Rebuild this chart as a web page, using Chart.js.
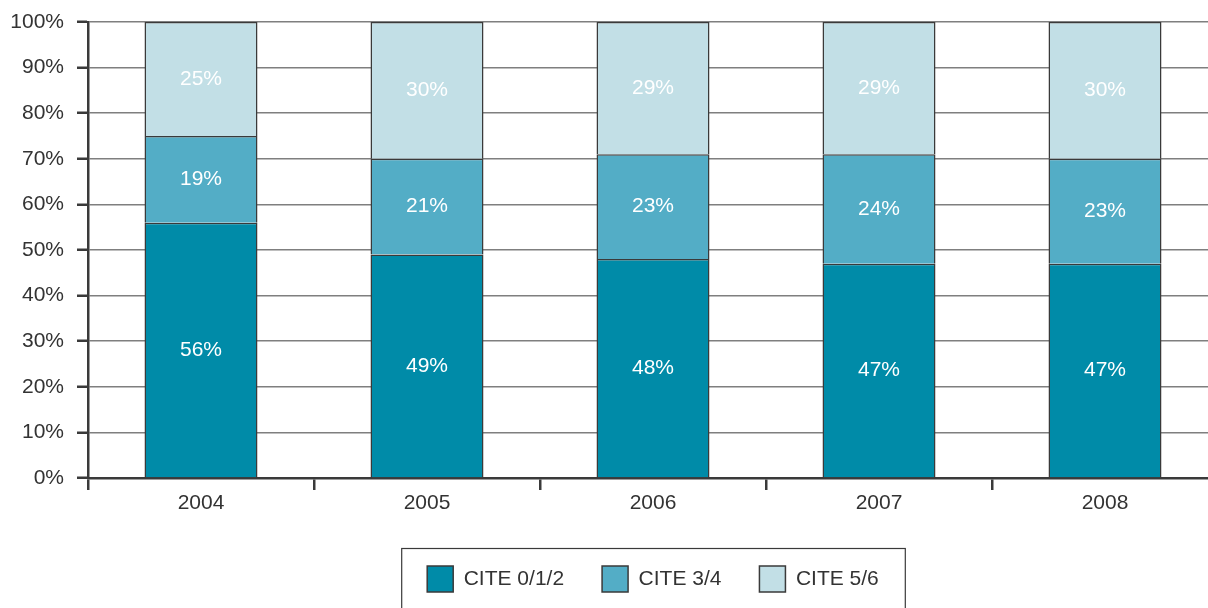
<!DOCTYPE html>
<html>
<head>
<meta charset="utf-8">
<script src="https://cdn.jsdelivr.net/npm/chart.js@4/dist/chart.umd.min.js"></script>
<style>
html,body{margin:0;padding:0;overflow:hidden;background:#fff;width:1208px;height:608px;}
#wrap{width:1308px;height:608px;}
</style>
</head>
<body>
<div id="wrap"><canvas id="c" width="1308" height="608"></canvas></div>
<script>
const categories = ['2004', '2005', '2006', '2007', '2008'];
const cite012 = [56, 49, 48, 47, 47];
const cite34 = [19, 21, 23, 24, 23];
const cite56 = [25, 30, 29, 29, 30];
const seriesNames = ['CITE 0/1/2', 'CITE 3/4', 'CITE 5/6'];
const yTicks = [0, 10, 20, 30, 40, 50, 60, 70, 80, 90, 100];

const FONT = "'Liberation Sans', Arial, Helvetica, sans-serif";
const colors = ['#008ba8', '#53adc6', '#c2dfe6'];
const edge = '#3a3a3a';

const valueLabels = {
  id: 'valueLabels',
  afterDatasetsDraw(chart) {
    const ctx = chart.ctx;
    ctx.save();
    ctx.fillStyle = '#ffffff';
    ctx.font = '21px ' + FONT;
    ctx.textAlign = 'center';
    ctx.textBaseline = 'middle';
    chart.data.datasets.forEach((ds, di) => {
      const meta = chart.getDatasetMeta(di);
      meta.data.forEach((el, i) => {
        const y = (el.y + el.base) / 2;
        ctx.fillText(ds.data[i] + '%', el.x, y);
      });
    });
    ctx.restore();
  }
};

const legendCenter = {
  id: 'legendCenter',
  afterLayout(chart) {
    const lg = chart.legend;
    if (!lg) return;
    const shift = (chart.chartArea.left + chart.chartArea.right) / 2 - (lg.left + lg.right) / 2;
    lg.left += shift;
    lg.right += shift;
  }
};

const legendFrame = {
  id: 'legendFrame',
  afterDraw(chart) {
    const lg = chart.legend;
    if (!lg || !lg.legendHitBoxes.length) return;
    const hb = lg.legendHitBoxes;
    const left = Math.min(...hb.map(h => h.left));
    const right = Math.max(...hb.map(h => h.left + h.width));
    const top = Math.min(...hb.map(h => h.top));
    const ctx = chart.ctx;
    ctx.save();
    ctx.strokeStyle = edge;
    ctx.lineWidth = 1.2;
    ctx.strokeRect(left - 25.5, top - 17.5, (right - left) + 52, 80);
    ctx.restore();
  }
};

new Chart(document.getElementById('c'), {
  type: 'bar',
  data: {
    labels: categories,
    datasets: [
      { label: seriesNames[0], data: cite012, backgroundColor: colors[0], borderColor: edge, borderWidth: 1.5 },
      { label: seriesNames[1], data: cite34, backgroundColor: colors[1], borderColor: edge, borderWidth: 1.5 },
      { label: seriesNames[2], data: cite56, backgroundColor: colors[2], borderColor: edge, borderWidth: 1.5 }
    ]
  },
  options: {
    responsive: false,
    devicePixelRatio: 1,
    animation: false,
    categoryPercentage: 1,
    barPercentage: 0.5,
    layout: { padding: { left: 0, right: 90, top: 22, bottom: 6 } },
    plugins: {
      tooltip: { enabled: false },
      legend: {
        position: 'bottom',
        labels: {
          boxWidth: 26,
          boxHeight: 26,
          padding: 38,
          color: '#333333',
          font: { family: FONT, size: 21 }
        }
      }
    },
    scales: {
      x: {
        stacked: true,
        offset: true,
        afterFit(s) { s.height = 50; },
        grid: { offset: true, drawOnChartArea: false, tickLength: 12, tickColor: edge, lineWidth: 2.5 },
        border: { color: edge, width: 2.5 },
        ticks: { color: '#333333', font: { family: FONT, size: 21 }, padding: 1 }
      },
      y: {
        stacked: true,
        min: 0,
        max: 100,
        afterFit(s) { s.width = 88; s.paddingTop = 0; s.paddingBottom = 0; },
        afterBuildTicks(s) { s.ticks = yTicks.map(v => ({ value: v })); },
        grid: { color: '#7f7f7f', lineWidth: 1.5, tickLength: 11, tickColor: edge, tickWidth: 2.5 },
        border: { color: edge, width: 2.5 },
        ticks: {
          color: '#333333',
          font: { family: FONT, size: 21 },
          padding: 13,
          callback: v => v + '%'
        }
      }
    }
  },
  plugins: [valueLabels, legendCenter, legendFrame]
});
</script>
</body>
</html>
